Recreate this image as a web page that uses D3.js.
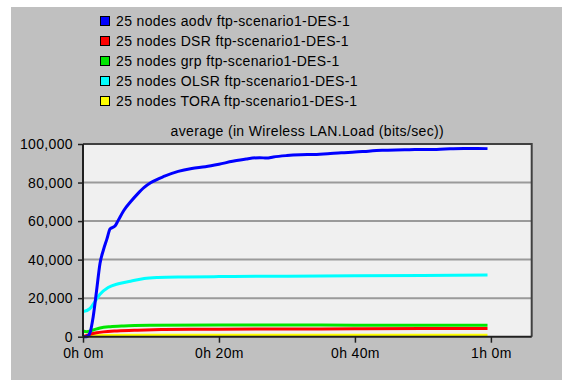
<!DOCTYPE html>
<html>
<head>
<meta charset="utf-8">
<script src="https://cdn.jsdelivr.net/npm/d3@7/dist/d3.min.js"></script>
<style>
  html, body { margin: 0; padding: 0; background: #ffffff; }
  svg { display: block; }
  text { font-family: "Liberation Sans", Arial, sans-serif; letter-spacing: 0.35px; }
</style>
</head>
<body>
<svg id="chart" width="562" height="380"></svg>
<script>
// Wireless LAN load, averaged, for five routing protocols (minutes, bits/sec)
const seriesNames = [
  "25 nodes aodv ftp-scenario1-DES-1",
  "25 nodes DSR ftp-scenario1-DES-1",
  "25 nodes grp ftp-scenario1-DES-1",
  "25 nodes OLSR ftp-scenario1-DES-1",
  "25 nodes TORA ftp-scenario1-DES-1"
];
const seriesColors = ["#0000ff", "#ff0000", "#00e600", "#00ffff", "#ffff00"];

const aodv = [
  [0, 0], [0.5, 0], [1.0, 1800], [1.5, 10400], [2.0, 24000], [2.5, 38000],
  [3.0, 45000], [3.5, 50500], [4.0, 56000], [4.7, 57400], [5.2, 60500],
  [6, 65500], [7, 70000], [8, 74000], [9, 77500], [10, 80000], [12, 83300],
  [14, 85800], [16, 87300], [18, 88200], [20, 89500], [22, 91000], [24, 92200],
  [26, 92900], [27, 92700], [28, 93300], [30, 94000], [32, 94400], [34, 94600],
  [36, 95000], [38, 95500], [40, 95800], [42, 96300], [44, 96700], [46, 96900],
  [48, 97000], [50, 97200], [52, 97200], [54, 97500], [56, 97700], [58, 97700],
  [59.5, 97600]
];
const dsr = [
  [0, 0], [1, 1200], [2, 2000], [3, 2500], [5, 3000], [8, 3400], [12, 3700],
  [20, 3900], [30, 4000], [40, 4100], [50, 4200], [59.5, 4200]
];
const grp = [
  [0, 3000], [0.5, 2600], [1.5, 3500], [2.5, 4500], [4, 5200], [6, 5600],
  [10, 5900], [20, 6100], [30, 6100], [40, 6000], [50, 6000], [59.5, 6000]
];
const olsr = [
  [0, 13000], [1, 14500], [1.8, 18500], [2.5, 22000], [3.7, 25500],
  [5.2, 27500], [7, 28800], [9, 30200], [11, 30700], [15, 31000],
  [20, 31200], [30, 31400], [40, 31600], [50, 31800], [59.5, 32000]
];
const tora = [
  [0, 0], [1, 400], [3, 600], [10, 700], [30, 750], [59.5, 750]
];
const seriesData = [aodv, dsr, grp, olsr, tora];

const yTicks = [0, 20000, 40000, 60000, 80000, 100000];
const xTicks = [0, 20, 40, 60];
const xTickLabels = ["0h 0m", "0h 20m", "0h 40m", "1h 0m"];
const chartTitle = "average (in Wireless LAN.Load (bits/sec))";

const fontSize = 14;
const svg = d3.select("#chart");

// grey panel with thin white margin at top/left
svg.append("rect").attr("x", 11).attr("y", 7).attr("width", 551).attr("height", 373)
  .attr("fill", "#c0c0c0");

const plot = { left: 83, top: 144, right: 531.7, bottom: 336.7 };
const x = d3.scaleLinear().domain([0, 66]).range([plot.left, plot.right]);
const y = d3.scaleLinear().domain([0, 100000]).range([plot.bottom, plot.top]);

// legend
const legend = svg.append("g");
seriesNames.forEach((name, i) => {
  const cy = 21 + i * 20;
  legend.append("rect").attr("x", 100.5).attr("y", cy - 4.5).attr("width", 9).attr("height", 9)
    .attr("fill", seriesColors[i]).attr("stroke", "#000").attr("stroke-width", 1);
  legend.append("text").attr("x", 116).attr("y", cy).attr("dy", "0.35em")
    .attr("font-size", fontSize).attr("fill", "#000").text(name);
});

// title
svg.append("text").attr("x", (plot.left + plot.right) / 2).attr("y", 131).attr("dy", "0.35em")
  .attr("text-anchor", "middle").attr("font-size", fontSize).attr("fill", "#000").text(chartTitle);

// plot background
svg.append("rect").attr("x", plot.left).attr("y", plot.top)
  .attr("width", plot.right - plot.left).attr("height", plot.bottom - plot.top)
  .attr("fill", "#f0f0f0");

// horizontal grid lines
svg.append("g").selectAll("line").data(yTicks.filter(d => d > 0 && d < 100000)).join("line")
  .attr("x1", plot.left).attr("x2", plot.right)
  .attr("y1", d => y(d)).attr("y2", d => y(d))
  .attr("stroke", "#9a9a9a").attr("stroke-width", 2);

// series lines
const line = d3.line().x(d => x(d[0])).y(d => y(d[1])).curve(d3.curveMonotoneX);
// drawn bottom-up so aodv sits on top
[4, 1, 2, 3, 0].forEach(i => {
  svg.append("path").datum(seriesData[i]).attr("d", line)
    .attr("fill", "none").attr("stroke", seriesColors[i]).attr("stroke-width", 3)
    .attr("stroke-linejoin", "round").attr("stroke-linecap", "butt");
});

// frame: top and right
svg.append("path")
  .attr("d", `M${plot.left},${plot.top}H${plot.right}V${plot.bottom}`)
  .attr("fill", "none").attr("stroke", "#404040").attr("stroke-width", 2);

// axes
const yAxis = svg.append("g").attr("transform", `translate(${plot.left},0)`)
  .call(d3.axisLeft(y).tickValues(yTicks).tickFormat(d3.format(",")).tickSize(5).tickPadding(5));
const xAxis = svg.append("g").attr("transform", `translate(0,${plot.bottom})`)
  .call(d3.axisBottom(x).tickValues(xTicks).tickFormat((d, i) => xTickLabels[i]).tickSize(6).tickPadding(5));

[yAxis, xAxis].forEach(ax => {
  ax.select(".domain").attr("stroke", "#202020").attr("stroke-width", 2);
  ax.selectAll(".tick line").attr("stroke", "#202020").attr("stroke-width", 1.5);
  ax.selectAll(".tick text").attr("font-size", fontSize).attr("fill", "#000")
    .attr("font-family", "'Liberation Sans', Arial, sans-serif");
});
yAxis.select(".domain").attr("d", `M0,${plot.top}V${plot.bottom}`);
xAxis.select(".domain").attr("d", `M${plot.left},0H${plot.right}`);
</script>
</body>
</html>
